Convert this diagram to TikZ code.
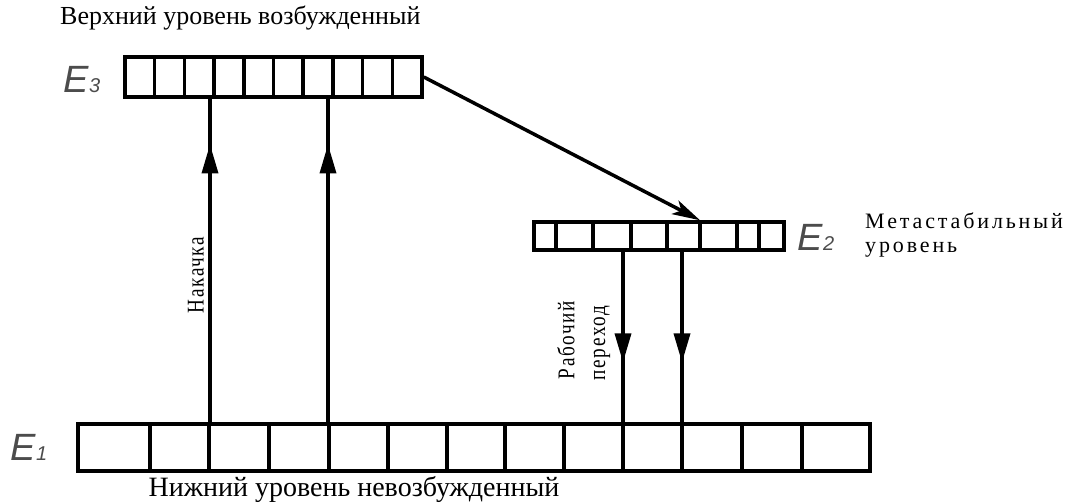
\documentclass[tikz,border=0pt]{standalone}
\usepackage{fontspec}
\setmainfont{Liberation Serif}
\newfontfamily\narrowfnt[FakeStretch=0.8, LetterSpace=7]{Liberation Serif}
\newfontfamily\widefnt[LetterSpace=13]{Liberation Serif}
\newfontfamily\lblfnt{Liberation Sans}
\usetikzlibrary{arrows.meta,decorations.markings}
\tikzset{
  cellbar/.style={draw, line width=3.5pt, rectangle, inner sep=0pt},
  divider/.style={line width=3.5pt},
  conn/.style={line width=3.5pt},
  uparrow/.style={conn, postaction={decorate}, decoration={markings,
      mark=at position 0.859 with {\arrow{Triangle[length=29pt,width=16pt]}}}},
  downarrow/.style={conn, postaction={decorate}, decoration={markings,
      mark=at position 0.649 with {\arrow{Triangle[length=29pt,width=16pt]}}}},
  elabel/.style={font=\lblfnt\itshape\fontsize{38}{40}\selectfont, text=black!70, inner sep=0pt},
  serifcap/.style={font=\fontsize{28}{32}\selectfont, inner sep=0pt},
  narrowcap/.style={font=\narrowfnt\fontsize{24}{26}\selectfont, inner sep=0pt},
  widecap/.style={font=\widefnt\fontsize{22}{24}\selectfont, inner sep=0pt},
}
\newcommand{\elev}[1]{E{\fontsize{20}{20}\selectfont #1}}
\begin{document}
\begin{tikzpicture}[x=1pt,y=-1pt]
\useasboundingbox (0,0) rectangle (1066,503);

% level bars
\node[cellbar, minimum width=297pt, minimum height=40pt] (E3bar) at (273.5,77) {};
\foreach \i in {1,...,9} \draw[divider] (125+\i*29.7,57) -- (125+\i*29.7,97);

\node[cellbar, minimum width=250pt, minimum height=28pt] (E2bar) at (659,236) {};
\foreach \x in {556,593,631,667,700,737,759} \draw[divider] (\x,222) -- (\x,250);

\node[cellbar, minimum width=792pt, minimum height=47pt] (E1bar) at (474,447.5) {};
\foreach \x in {150,209,269,329,388,447,505,564,623,682,742,802} \draw[divider] (\x,424) -- (\x,471);

% level labels
\node[elabel] (lE3) at (82,80) {\elev{3}};
\node[elabel] (lE2) at (816,237) {\elev{2}};
\node[elabel] (lE1) at (29,447) {\elev{1}};

% connectors
\coordinate (u1) at (210,0);
\coordinate (u2) at (328,0);
\coordinate (d1) at (623,0);
\coordinate (d2) at (682,0);
\coordinate (dg) at (700,0);
\draw[uparrow] (E1bar.north -| u1) -- (E3bar.south -| u1);
\draw[uparrow] (E1bar.north -| u2) -- (E3bar.south -| u2);
\draw[downarrow] (E2bar.south -| d1) -- (E1bar.north -| d1);
\draw[downarrow] (E2bar.south -| d2) -- (E1bar.north -| d2);
\draw[conn, -{Stealth[length=28pt,width=15pt,inset=7pt]}] (E3bar.east) -- (E2bar.north -| dg);

% texts
\node[serifcap, font=\fontsize{26}{30}\selectfont, anchor=west] (top) at (60,18) {Верхний уровень возбужденный};
\node[serifcap] (bottom) at (354,489) {Нижний уровень невозбужденный};
\node[narrowcap, rotate=90] (pump) at (196,275) {Накачка};
\node[narrowcap, rotate=90] (work1) at (566,340) {Рабочий};
\node[narrowcap, rotate=90] (work2) at (602,343) {переход};
\node[widecap, anchor=west] (meta1) at (865,221) {Метастабильный};
\node[widecap, anchor=west] (meta2) at (865,250) {уровень};
\end{tikzpicture}
\end{document}
